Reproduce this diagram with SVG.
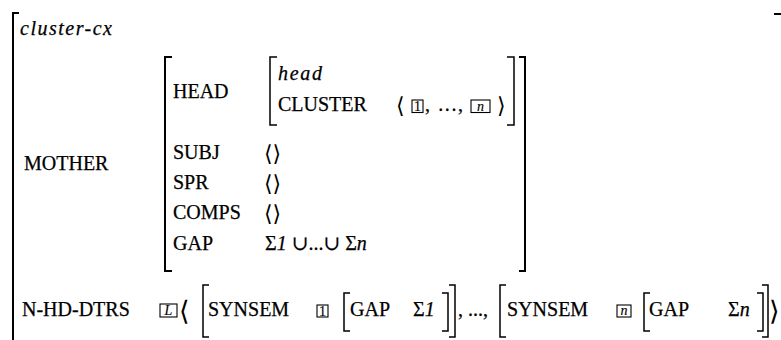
<svg xmlns="http://www.w3.org/2000/svg" width="781" height="340" viewBox="0 0 781 340" font-family="'Liberation Serif', 'DejaVu Serif', serif">
<style>
text{font-family:'Liberation Serif','DejaVu Serif',serif;font-size:20px;fill:#000;stroke:#000;stroke-width:0.25}
.it{font-style:italic}
.tag{font-size:14px;stroke-width:0.15}
.ang{font-family:'DejaVu Serif','Liberation Serif',serif;font-size:22px;stroke-width:0}
.big{font-size:27px}
.bk{fill:none;stroke:#000;stroke-width:2}
.bt{fill:none;stroke:#000;stroke-width:1.5}
.box{fill:none;stroke:#000;stroke-width:1.1}
</style>
<rect width="781" height="340" fill="#fff"/>
<g id="outer">
<path class="bk" d="M19,13 H13 V340"/>
<path class="bk" d="M774,14 H781"/>
<text class="it" x="20" y="35" textLength="92">cluster-cx</text>
<text x="24" y="170">MOTHER</text>
<text x="22" y="316">N-HD-DTRS</text>
</g>
<g id="mother">
<path class="bk" d="M172,57 H165 V271 H172"/>
<path class="bk" d="M519,57 H525 V271 H519"/>
<text x="173" y="98">HEAD</text>
<text x="173" y="159">SUBJ</text>
<text x="173" y="189">SPR</text>
<text x="173" y="219">COMPS</text>
<text x="173" y="250">GAP</text>
<text class="ang" x="264" y="161">⟨⟩</text>
<text class="ang" x="264" y="191">⟨⟩</text>
<text class="ang" x="264" y="221">⟨⟩</text>
<text x="265" y="250">Σ<tspan class="it">1</tspan> ∪...∪ Σ<tspan class="it">n</tspan></text>
</g>
<g id="head">
<path class="bt" d="M277,57 H270 V125 H277"/>
<path class="bt" d="M507,57 H514 V125 H507"/>
<text class="it" x="278" y="80" textLength="44">head</text>
<text x="278" y="111">CLUSTER</text>
<text class="ang" x="396" y="113">⟨</text>
<rect class="box" x="412" y="100" width="11" height="12.5"/>
<text class="tag" x="417.5" y="111" text-anchor="middle">1</text>
<text x="425" y="111" textLength="38" lengthAdjust="spacing">, ...,</text>
<rect class="box" x="471" y="100" width="19" height="12.5"/>
<text class="tag it" x="480.5" y="110.5" text-anchor="middle">n</text>
<text class="ang" x="497" y="113">⟩</text>
</g>
<g id="dtrs">
<rect class="box" x="160" y="304" width="17" height="13"/>
<text class="tag it" x="168.5" y="315" text-anchor="middle">L</text>
<text class="ang big" x="179" y="320">⟨</text>
<path class="bt" d="M209,285 H203 V337 H209"/>
<text x="208" y="316">SYNSEM</text>
<rect class="box" x="317" y="305" width="11" height="12"/>
<text class="tag" x="322.5" y="315.5" text-anchor="middle">1</text>
<path class="bt" d="M350,293 H344 V331 H350"/>
<text x="350" y="316">GAP</text>
<text x="413" y="316">Σ<tspan class="it">1</tspan></text>
<path class="bt" d="M442,293 H448 V331 H442"/>
<path class="bt" d="M449,285 H455 V337 H449"/>
<text x="458" y="316">, ...,</text>
<path class="bt" d="M506,285 H500 V337 H506"/>
<text x="507" y="316">SYNSEM</text>
<rect class="box" x="617" y="305" width="14" height="12"/>
<text class="tag it" x="624" y="315" text-anchor="middle">n</text>
<path class="bt" d="M650,293 H644 V331 H650"/>
<text x="649" y="316">GAP</text>
<text x="728" y="316">Σ<tspan class="it">n</tspan></text>
<path class="bt" d="M757,293 H763 V331 H757"/>
<path class="bt" d="M762,285 H768 V337 H762"/>
<text class="ang big" x="769" y="320">⟩</text>
</g>
</svg>
